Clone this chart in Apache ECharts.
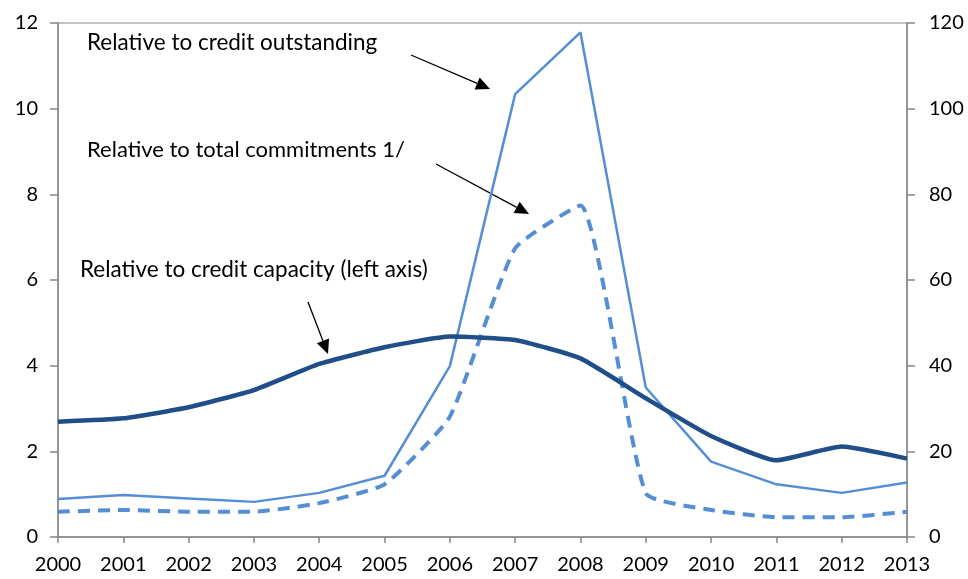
<!DOCTYPE html>
<html>
<head>
<meta charset="utf-8">
<script src="https://cdn.jsdelivr.net/npm/echarts@6/dist/echarts.min.js"></script>
<style>
html,body{margin:0;padding:0;background:#fff;}
#chart{width:968px;height:579px;}
</style>
</head>
<body>
<div id="chart"></div>
<script>
var years = ['2000','2001','2002','2003','2004','2005','2006','2007','2008','2009','2010','2011','2012','2013'];
var capacity = [2.69, 2.77, 3.03, 3.43, 4.04, 4.43, 4.68, 4.60, 4.17, 3.24, 2.36, 1.79, 2.11, 1.83];
var outstanding = [8.9, 9.8, 9.0, 8.2, 10.3, 14.3, 39.9, 103.4, 117.8, 34.9, 17.6, 12.3, 10.3, 12.7];
var commitments = [5.9, 6.3, 5.9, 5.9, 7.9, 12.3, 28.1, 67.4, 77.4, 10.2, 6.3, 4.6, 4.6, 5.9];
var leftTicks = [0, 12, 2];
var rightTicks = [0, 120, 20];

var FONT = 'Lato';
var dark = '#1F4E89';
var light = '#558ED5';
var axisGray = '#868686';

function arrow(x1, y1, x2, y2) {
  var dx = x2 - x1, dy = y2 - y1, len = Math.sqrt(dx*dx + dy*dy);
  var ux = dx/len, uy = dy/len;
  var hl = 14, hw = 6.5;
  var bx = x2 - ux*hl, by = y2 - uy*hl;
  return [
    {type:'line', shape:{x1:x1, y1:y1, x2:bx, y2:by}, style:{stroke:'#000', lineWidth:1.3}},
    {type:'polygon', shape:{points:[[x2,y2],[bx - uy*hw, by + ux*hw],[bx + uy*hw, by - ux*hw]]}, style:{fill:'#000'}}
  ];
}

var graphics = [
  {type:'text', left:87, top:31, style:{text:'Relative to credit outstanding', font:'22.5px ' + FONT, fill:'#000'}},
  {type:'text', left:87, top:139, style:{text:'Relative to total commitments 1/', font:'22px ' + FONT, fill:'#000'}},
  {type:'text', left:80, top:258, style:{text:'Relative to credit capacity (left axis)', font:'22.5px ' + FONT, fill:'#000'}}
].concat(arrow(411, 55, 490, 89)).concat(arrow(436, 164, 529, 214)).concat(arrow(308, 302, 328, 354));

var chart = echarts.init(document.getElementById('chart'));
chart.setOption({
  animation: false,
  backgroundColor: '#fff',
  textStyle: {fontFamily: FONT},
  grid: {left: 58, right: 61, top: 23, bottom: 42, show: true, borderColor: axisGray, borderWidth: 1},
  xAxis: {
    type: 'category', data: years, boundaryGap: false,
    axisLine: {lineStyle: {color: axisGray, width: 1.5}},
    axisTick: {show: true, length: 6, lineStyle: {color: axisGray, width: 1.5}},
    axisLabel: {color: '#000', fontSize: 20, fontFamily: FONT, margin: 18, interval: 0},
    splitLine: {show: false}
  },
  yAxis: [
    {type: 'value', min: leftTicks[0], max: leftTicks[1], interval: leftTicks[2], position: 'left',
     axisLine: {show: true, lineStyle: {color: axisGray, width: 1.5}},
     axisTick: {show: true, length: 8, lineStyle: {color: axisGray, width: 1.5}},
     axisLabel: {color: '#000', fontSize: 20, fontFamily: FONT, margin: 20},
     splitLine: {show: false}},
    {type: 'value', min: rightTicks[0], max: rightTicks[1], interval: rightTicks[2], position: 'right',
     axisLine: {show: true, lineStyle: {color: axisGray, width: 1.5}},
     axisTick: {show: true, length: 8, lineStyle: {color: axisGray, width: 1.5}},
     axisLabel: {color: '#000', fontSize: 20, fontFamily: FONT, margin: 22},
     splitLine: {show: false}}
  ],
  series: [
    {name: 'Relative to credit outstanding', type: 'line', yAxisIndex: 1, data: outstanding,
     showSymbol: false, symbol: 'none', lineStyle: {color: light, width: 2.5}, z: 3},
    {name: 'Relative to total commitments 1/', type: 'line', yAxisIndex: 1, data: commitments,
     showSymbol: false, symbol: 'none', smooth: 0.15,
     lineStyle: {color: light, width: 4, type: [12, 8], cap: 'butt'}, z: 3},
    {name: 'Relative to credit capacity (left axis)', type: 'line', yAxisIndex: 0, data: capacity,
     showSymbol: false, symbol: 'none', smooth: 0.15,
     lineStyle: {color: dark, width: 4.5}, z: 4}
  ],
  graphic: graphics
});
</script>
</body>
</html>
